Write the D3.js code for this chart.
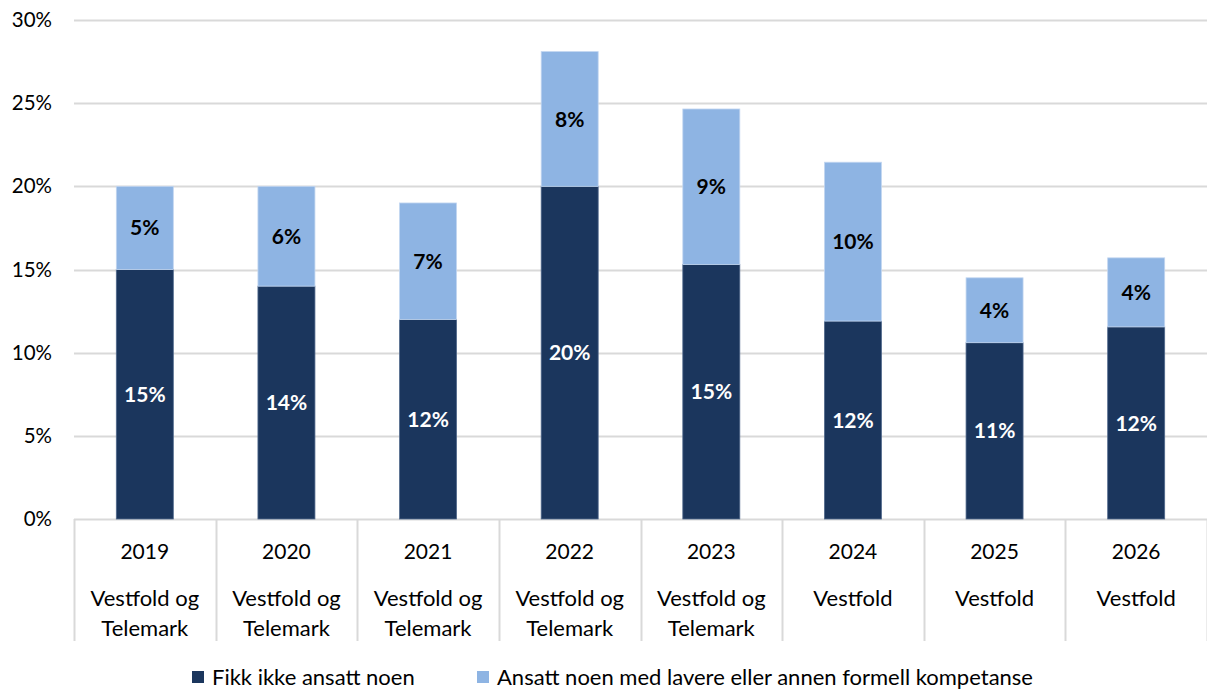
<!DOCTYPE html>
<html>
<head>
<meta charset="utf-8">
<script src="https://cdn.jsdelivr.net/npm/d3@7"></script>
<style>
  html, body { margin: 0; padding: 0; background: #fff; }
  svg { display: block; font-family: Lato, "Open Sans", sans-serif; }
</style>
</head>
<body>
<svg id="chart" width="1207" height="691"></svg>
<script>
// Categories: year + region (region may wrap to two lines)
const years = ["2019", "2020", "2021", "2022", "2023", "2024", "2025", "2026"];
const regions = [
  ["Vestfold og", "Telemark"],
  ["Vestfold og", "Telemark"],
  ["Vestfold og", "Telemark"],
  ["Vestfold og", "Telemark"],
  ["Vestfold og", "Telemark"],
  ["Vestfold"],
  ["Vestfold"],
  ["Vestfold"]
];
// Series values (share of firms, in %)
const fikkIkke = [15.0, 14.0, 12.0, 20.0, 15.3, 11.9, 10.6, 11.55];
const ansattLavere = [5.0, 6.0, 7.0, 8.1, 9.35, 9.55, 3.9, 4.15];
const seriesNames = ["Fikk ikke ansatt noen", "Ansatt noen med lavere eller annen formell kompetanse"];
const yTicks = [0, 5, 10, 15, 20, 25, 30];

const colors = ["#1b365d", "#8eb4e3"];
const labelColors = ["#ffffff", "#000000"];

const svg = d3.select("#chart");
const m = { left: 74, right: 1207, top: 20, bottom: 519 };

const x = d3.scaleBand().domain(years).range([m.left, m.right]).paddingInner(0).paddingOuter(0);
const y = d3.scaleLinear().domain([0, 30]).range([m.bottom, m.top]);
const barW = 57;

// Gridlines
svg.append("g")
  .selectAll("line")
  .data(yTicks)
  .join("line")
  .attr("x1", m.left).attr("x2", m.right)
  .attr("y1", d => Math.round(y(d)) + 0.5).attr("y2", d => Math.round(y(d)) + 0.5)
  .attr("stroke", "#d9d9d9").attr("stroke-width", 2);

// Y axis labels
const yAxis = d3.axisLeft(y).tickValues(yTicks).tickFormat(d => d + "%").tickSize(0).tickPadding(0);
const ya = svg.append("g").attr("transform", `translate(${m.left - 22},0)`).call(yAxis);
ya.select(".domain").remove();
ya.selectAll("text").attr("font-size", 20.5).attr("fill", "#000").attr("font-family", "Lato, sans-serif");

// Stacked data
const rows = years.map((yr, i) => ({ year: yr, a: fikkIkke[i], b: ansattLavere[i] }));
const stack = d3.stack().keys(["a", "b"]);
const stacked = stack(rows);
const fmt = v => Math.round(v) + "%";

stacked.forEach((layer, li) => {
  const g = svg.append("g");
  g.selectAll("rect")
    .data(layer)
    .join("rect")
    .attr("x", d => x(d.data.year) + x.bandwidth() / 2 - barW / 2)
    .attr("width", barW)
    .attr("y", d => y(d[1]))
    .attr("height", d => y(d[0]) - y(d[1]))
    .attr("fill", colors[li])
    .attr("stroke", li === 0 ? "#51698c" : "#c2d6f0")
    .attr("stroke-width", 0.8);
  g.selectAll("text")
    .data(layer)
    .join("text")
    .attr("x", d => x(d.data.year) + x.bandwidth() / 2)
    .attr("y", d => (y(d[0]) + y(d[1])) / 2)
    .attr("dy", "0.36em")
    .attr("text-anchor", "middle")
    .attr("font-size", 21)
    .attr("font-weight", "bold")
    .attr("fill", labelColors[li])
    .text(d => fmt(d[1] - d[0]));
});

// Category axis: dividers + labels
const cat = svg.append("g");
const edges = years.map(yr => x(yr)).concat([m.right]);
cat.selectAll("line.div")
  .data(edges)
  .join("line")
  .attr("class", "div")
  .attr("x1", d => Math.round(d) + 0.5).attr("x2", d => Math.round(d) + 0.5)
  .attr("y1", m.bottom).attr("y2", 641)
  .attr("stroke", "#d9d9d9").attr("stroke-width", 2);

years.forEach((yr, i) => {
  const cx = x(yr) + x.bandwidth() / 2;
  cat.append("text")
    .attr("x", cx).attr("y", 559)
    .attr("text-anchor", "middle").attr("font-size", 21).attr("fill", "#000")
    .text(yr);
  regions[i].forEach((line, j) => {
    cat.append("text")
      .attr("x", cx).attr("y", 606 + j * 30)
      .attr("text-anchor", "middle").attr("font-size", 22).attr("fill", "#000")
      .text(line);
  });
});

// Legend
const legendItems = [
  { name: seriesNames[0], color: colors[0], x: 192 },
  { name: seriesNames[1], color: colors[1], x: 477 }
];
const lg = svg.append("g");
legendItems.forEach(it => {
  lg.append("rect").attr("x", it.x).attr("y", 671).attr("width", 12).attr("height", 12).attr("fill", it.color);
  lg.append("text").attr("x", it.x + 20).attr("y", 685)
    .attr("font-size", 22).attr("fill", "#000").text(it.name);
});
</script>
</body>
</html>
